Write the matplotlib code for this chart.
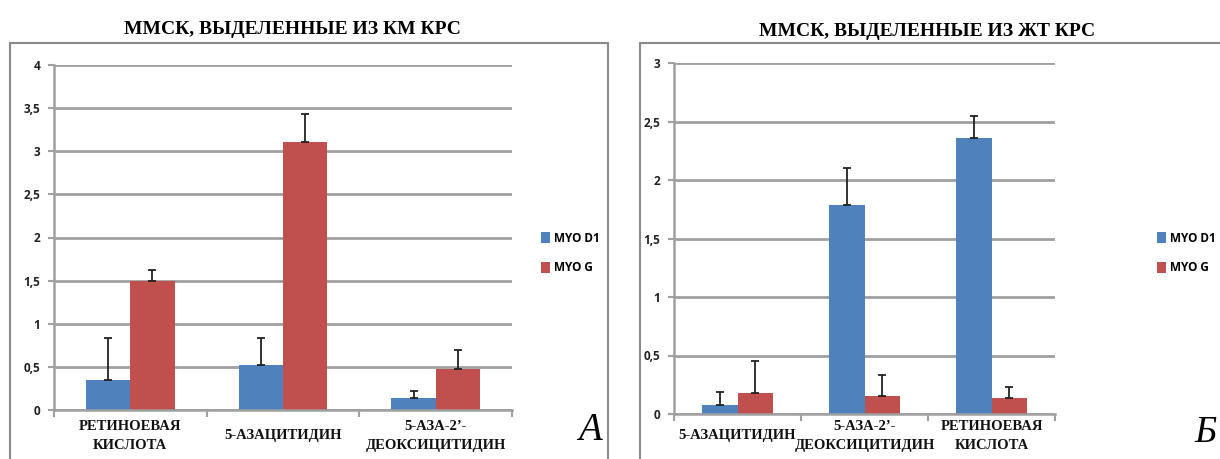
import matplotlib
matplotlib.use("Agg")
import matplotlib.pyplot as plt
from matplotlib.patches import Rectangle
from matplotlib.transforms import blended_transform_factory
import numpy as np

W, H = 1220, 459
DPI = 100

# ---- data ----
series_names = ["MYO D1", "MYO G"]

cats_a = ["РЕТИНОЕВАЯ\nКИСЛОТА", "5-АЗАЦИТИДИН", "5-АЗА-2’-\nДЕОКСИЦИТИДИН"]
myod1_a = [0.35, 0.52, 0.14]
myod1_a_err = [0.48, 0.31, 0.08]
myog_a = [1.50, 3.11, 0.48]
myog_a_err = [0.12, 0.32, 0.21]
yticks_a = [0, 0.5, 1, 1.5, 2, 2.5, 3, 3.5, 4]
title_a = "ММСК, ВЫДЕЛЕННЫЕ ИЗ КМ КРС"

cats_b = ["5-АЗАЦИТИДИН", "5-АЗА-2’-\nДЕОКСИЦИТИДИН", "РЕТИНОЕВАЯ\nКИСЛОТА"]
myod1_b = [0.08, 1.79, 2.36]
myod1_b_err = [0.11, 0.31, 0.19]
myog_b = [0.18, 0.15, 0.135]
myog_b_err = [0.27, 0.18, 0.10]
yticks_b = [0, 0.5, 1, 1.5, 2, 2.5, 3]
title_b = "ММСК, ВЫДЕЛЕННЫЕ ИЗ ЖТ КРС"

BLUE = "#4F81BD"
RED = "#C0504D"
GRID = "#a0a0a0"
SERIF = "Liberation Serif"
SANS = "Open Sans"

fig = plt.figure(figsize=(W / DPI, H / DPI), dpi=DPI)
fig.patch.set_facecolor("white")


def px_axes(x0, y_top, x1, y_bot):
    return fig.add_axes([x0 / W, 1 - y_bot / H, (x1 - x0) / W, (y_bot - y_top) / H])


def fmt(v):
    return ("%g" % v).replace(".", ",")


def panel(ax, cats, d1, d1e, g, ge, yticks, barw, label_off):
    x = np.arange(len(cats))
    ekw = dict(ecolor="#222222", elinewidth=1.3, capsize=3, capthick=1.3)
    ax.bar(x - barw / 2, d1, barw, color=BLUE, zorder=3,
           yerr=[np.zeros(len(d1)), d1e], error_kw=ekw, label=series_names[0])
    ax.bar(x + barw / 2, g, barw, color=RED, zorder=3,
           yerr=[np.zeros(len(g)), ge], error_kw=ekw, label=series_names[1])
    ax.set_xlim(-0.5, len(cats) - 0.5)
    ax.set_ylim(yticks[0], yticks[-1])
    ax.set_yticks(yticks)
    ax.set_yticklabels([fmt(v) for v in yticks], fontfamily=SANS,
                       fontweight="bold", fontsize=8.5, color="#222222")
    ax.yaxis.grid(True, color=GRID, linewidth=2, zorder=0)
    ax.set_axisbelow(True)
    for s in ["top", "right"]:
        ax.spines[s].set_visible(False)
    for s in ["left", "bottom"]:
        ax.spines[s].set_color(GRID)
        ax.spines[s].set_linewidth(1.8)
        ax.spines[s].set_zorder(4)
    ax.tick_params(axis="y", length=4, width=1.5, color=GRID, pad=6)
    ax.set_xticks(np.arange(len(cats) + 1) - 0.5)
    ax.set_xticklabels([])
    ax.tick_params(axis="x", length=5, width=1.5, color=GRID)
    tr = blended_transform_factory(ax.transData, ax.transAxes)
    for i, c in enumerate(cats):
        ax.text(i, -label_off, c, transform=tr, ha="center", va="center",
                fontfamily=SERIF, fontweight="bold", fontsize=10.5,
                linespacing=1.6, color="#111111")


# frames
fig.patches.append(Rectangle((10 / W, -0.1), 598 / W, 1.1 - 43 / H,
                             transform=fig.transFigure, fill=False,
                             edgecolor="#8a8a8a", linewidth=1.5))
fig.patches.append(Rectangle((640 / W, -0.1), 600 / W, 1.1 - 43 / H,
                             transform=fig.transFigure, fill=False,
                             edgecolor="#8a8a8a", linewidth=1.5))

ax1 = px_axes(54, 65, 512, 410)
panel(ax1, cats_a, myod1_a, myod1_a_err, myog_a, myog_a_err, yticks_a, 0.29,
      26 / 345)
ax2 = px_axes(674, 63, 1055, 414)
panel(ax2, cats_b, myod1_b, myod1_b_err, myog_b, myog_b_err, yticks_b, 0.28,
      22 / 351)

# titles
fig.text(292 / W, 1 - 30 / H, title_a, ha="center", va="center",
         fontfamily=SERIF, fontweight="bold", fontsize=14)
fig.text(927 / W, 1 - 31 / H, title_b, ha="center", va="center",
         fontfamily=SERIF, fontweight="bold", fontsize=14)

# legends
for ax, lx in [(ax1, 536), (ax2, 1152)]:
    h, l = ax.get_legend_handles_labels()
    fig.legend(h, l, loc="center left", bbox_to_anchor=(lx / W, 1 - 253 / H),
               frameon=False, prop=dict(family=SANS, weight="bold", size=8.5),
               handlelength=0.8, handleheight=1.0, handletextpad=0.3,
               labelspacing=1.4, borderaxespad=0)

# panel letters
fig.text(590 / W, 1 - 431 / H, "А", ha="center", va="center",
         fontfamily=SERIF, fontstyle="italic", fontsize=28)
fig.text(1205 / W, 1 - 433 / H, "Б", ha="center", va="center",
         fontfamily=SERIF, fontstyle="italic", fontsize=27)

fig.savefig("out.png", dpi=DPI, facecolor="white")
